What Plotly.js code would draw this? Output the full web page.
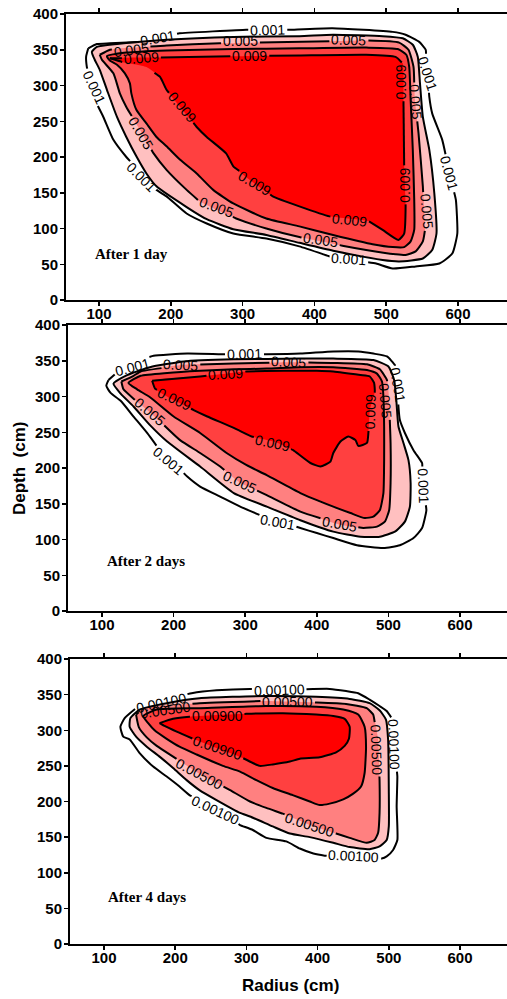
<!DOCTYPE html>
<html>
<head>
<meta charset="utf-8">
<script src="https://cdn.plot.ly/plotly-3.0.1.min.js"></script>
<style>html,body{margin:0;padding:0;background:#fff;}#chart{width:507px;height:999px;}</style>
</head>
<body>
<div id="chart"></div>
<script>
// ---------- contour lines: [radius (cm), depth (cm)] ----------
// After 1 day
const day1_c001 = [[85,352],[97,358],[115,359],[157,361],[212,373],[305,378],[365,378],[425,380],[509,375],[527,371],[546,361],[555,350],[560,284],[564,261],[578,224],[597,140],[599,93],[592,65],[574,51],[541,47],[509,44],[486,51],[421,61],[379,75],[333,86],[287,93],[250,107],[222,121],[194,145],[180,154],[138,200],[120,224],[106,256],[92,284],[83,326],[82,340]];
const day1_c003 = [[90,347],[97,354],[125,358],[194,364],[287,368],[379,369],[426,371],[495,369],[523,366],[537,357],[544,340],[547,303],[551,256],[560,210],[567,149],[570,93],[564,70],[551,58],[518,54],[495,56],[426,69],[379,80],[333,91],[287,99],[250,113],[222,130],[180,159],[166,177],[152,201],[138,228],[125,256],[111,294],[101,322],[94,336]];
const day1_c005 = [[101,343],[115,350],[148,353],[194,356],[268,359],[324,360],[421,362],[472,363],[518,360],[531,350],[538,326],[540,280],[545,233],[551,159],[554,98],[551,82],[541,68],[527,63],[513,64],[472,70],[439,76],[379,88],[333,100],[291,114],[240,138],[222,154],[194,182],[176,205],[157,238],[138,270],[129,289],[120,317],[104,336]];
const day1_c007 = [[111,341],[138,346],[194,349],[287,351],[379,352],[472,353],[516,351],[528,343],[532,326],[534,280],[537,210],[539,140],[539,98],[534,82],[525,74],[509,74],[481,78],[426,91],[379,103],[333,114],[287,135],[259,154],[236,177],[213,196],[194,215],[180,228],[166,247],[152,266],[145,289],[143,303],[136,317],[125,329],[115,335]];
const day1_c009 = [[115,338],[185,339],[287,341],[379,342],[472,343],[513,340],[523,331],[524,280],[525,187],[527,131],[525,93],[517,84],[495,98],[476,110],[421,117],[379,131],[342,145],[287,187],[277,205],[250,228],[236,242],[194,294],[185,312],[166,326],[132,333]];

// After 2 days
const day2_c001 = [[109,323],[106,315],[112,305],[126,294],[144,272],[163,249],[177,230],[219,188],[237,174],[265,160],[293,146],[321,134],[377,116],[400,109],[423,102],[456,92],[493,88],[516,92],[535,102],[547,116],[553,141],[549,179],[547,207],[535,225],[523,249],[516,267],[514,286],[512,328],[509,344],[498,356],[479,360],[458,363],[423,363],[377,360],[330,359],[270,359],[219,360],[172,357],[144,349],[119,332]];
const day2_c003 = [[116,318],[135,330],[167,341],[214,349],[284,352],[377,353],[423,353],[479,351],[500,342],[508,323],[511,295],[514,258],[521,235],[528,211],[531,179],[530,146],[523,125],[509,111],[488,104],[461,104],[423,111],[377,127],[330,146],[284,165],[237,202],[191,237],[167,260],[144,286],[126,304]];
const day2_c005 = [[127,321],[144,329],[154,335],[210,344],[284,346],[361,348],[423,347],[470,345],[488,338],[498,323],[501,295],[503,235],[503,179],[501,141],[495,125],[484,118],[465,116],[431,121],[377,139],[330,162],[292,180],[265,202],[237,221],[209,239],[167,278],[144,297],[130,310]];
const day2_c007 = [[137,319],[154,329],[191,333],[237,336],[284,338],[330,339],[377,341],[423,341],[470,337],[484,332],[491,321],[493,300],[494,258],[494,211],[493,165],[488,141],[479,132],[467,130],[447,137],[423,146],[377,165],[330,190],[302,204],[274,221],[237,249],[200,272],[167,299],[149,310]];
const day2_c009 = [[170,322],[237,328],[302,335],[354,336],[400,336],[423,335],[461,330],[474,328],[480,319],[481,307],[474,281],[472,249],[470,235],[458,231],[454,239],[444,244],[433,237],[423,221],[419,209],[405,202],[391,207],[367,225],[340,237],[309,244],[284,256],[247,272],[228,281],[200,295],[174,311]];

// After 4 days
const day4_c001 = [[145,331],[129,317],[123,305],[127,291],[136,287],[150,268],[169,249],[188,235],[206,221],[220,209],[255,191],[291,167],[309,160],[328,149],[356,144],[375,134],[394,127],[410,124],[450,120],[490,120],[497,123],[506,132],[512,146],[511,193],[512,235],[508,280],[504,317],[497,327],[487,334],[473,343],[457,352],[440,355],[417,358],[347,357],[305,358],[258,356],[223,352],[183,343]];
const day4_c003 = [[137,317],[150,329],[188,338],[234,345],[328,348],[398,347],[445,344],[473,338],[487,328],[496,315],[499,287],[500,216],[500,165],[497,146],[487,137],[473,133],[445,136],[422,142],[389,150],[361,155],[337,165],[305,179],[291,184],[258,202],[234,216],[216,230],[197,247],[178,263],[160,277],[145,291],[136,305]];
const day4_c005 = [[145,322],[155,331],[234,338],[323,341],[398,339],[440,337],[469,331],[478,322],[485,287],[487,230],[487,184],[485,156],[480,146],[469,142],[445,149],[426,155],[389,167],[351,183],[328,191],[305,200],[277,216],[234,239],[197,263],[174,278],[160,290],[149,304]];
const day4_c007 = [[155,320],[174,329],[234,331],[328,334],[398,333],[436,329],[457,322],[466,305],[468,277],[466,240],[461,221],[450,211],[436,203],[417,197],[403,195],[389,200],[365,209],[337,219],[314,230],[291,242],[267,250],[230,266],[206,277],[188,288],[171,300],[162,310]];
const day4_c009 = [[178,310],[197,316],[220,319],[300,323],[351,324],[398,322],[422,320],[438,316],[445,305],[444,288],[438,278],[426,269],[403,262],[375,260],[361,256],[337,252],[319,250],[309,254],[295,261],[258,275],[225,288],[202,298],[185,306]];

// ---------- contour labels: text, radius, depth ----------
const day1_lab_text = ['0.001','0.001','0.001','0.001','0.001','0.001','0.001','0.005','0.005','0.005','0.005','0.005','0.005','0.005','0.005','0.009','0.009','0.009','0.009','0.009','0.009','0.009'];
const day1_lab_x    = [182,335,557,587,448,159,93, 145,297,448,541,556,409,263,158, 159,310,520,526,216,316,449];
const day1_lab_y    = [367,378,317,177,57,172,298, 349,362.5,363,277,124,84,130,233, 338,341,305,161,270,163,112];
const day1_lab_ang  = [-10,-2,72,75,4,45,65, -8,0,2,85,85,8,20,60, -4,0,-90,-90,50,30,6];

const day2_lab_text = ['0.001','0.001','0.001','0.001','0.001','0.001','0.005','0.005','0.005','0.005','0.005','0.005','0.009','0.009','0.009','0.009'];
const day2_lab_x    = [143,299,513,549,345,193, 210,361,496,431,292,167, 273,474,338,201];
const day2_lab_y    = [341,359,316,175,124,210, 344,348,294,121,180,278, 332,279,235,297];
const day2_lab_ang  = [-15,-2,80,88,10,40, 3,3,85,10,25,40, -3,-88,12,25];

const day4_lab_text = ['0.00100','0.00100','0.00100','0.00100','0.00100','0.00500','0.00500','0.00500','0.00500','0.00500','0.00900','0.00900'];
const day4_lab_x    = [181,346,508,451,256, 187,358,482,389,234, 259,260];
const day4_lab_y    = [338,357,280,123,188, 328,340,273,167,239, 320,275];
const day4_lab_ang  = [-12,-2,88,3,25, -8,0,88,18,28, 0,18];

const panel_titles = ['After 1 day','After 2 days','After 4 days'];
const xtick_vals = [100,200,300,400,500,600];
const ytick_vals = [0,50,100,150,200,250,300,350,400];

// ---------- geometry of the three panels (pixels of the 507x999 page) ----------
const W = 507, H = 999;
const geo = [
  {xl: 66, xr: 507, yt: 14,  yb: 300, xr0: 54,   xr1: 668.2},
  {xl: 68, xr: 507, yt: 325, yb: 611, xr0: 52.5, xr1: 665.6},
  {xl: 70, xr: 507, yt: 659, yb: 944, xr0: 52.2, xr1: 666}
];
const LABEL_FONT = 14;

// remove the stretch of a contour line that lies under its own labels (line gap like the original)
function gapLine(pts, circles, sx, sy) {
  const xs = [], ys = [];
  let open = false;
  for (let i = 0; i < pts.length - 1; i++) {
    const A = pts[i], B = pts[i + 1];
    const dx = (B[0] - A[0]) * sx, dy = (B[1] - A[1]) * sy;
    const cuts = [];
    circles.forEach(c => {
      const fx = (A[0] - c[0]) * sx, fy = (A[1] - c[1]) * sy;
      const a = dx * dx + dy * dy, b = 2 * (fx * dx + fy * dy), cc = fx * fx + fy * fy - c[2] * c[2];
      const disc = b * b - 4 * a * cc;
      if (a === 0 || disc <= 0) return;
      const s = Math.sqrt(disc);
      const t1 = Math.max(0, (-b - s) / (2 * a)), t2 = Math.min(1, (-b + s) / (2 * a));
      if (t2 > t1) cuts.push([t1, t2]);
    });
    cuts.sort((p, q) => p[0] - q[0]);
    const keep = [];
    let cur = 0;
    cuts.forEach(([u, v]) => { if (u > cur) keep.push([cur, u]); cur = Math.max(cur, v); });
    if (cur < 1) keep.push([cur, 1]);
    const P = t => [A[0] + (B[0] - A[0]) * t, A[1] + (B[1] - A[1]) * t];
    if (!keep.length) { open = false; continue; }
    keep.forEach(([u, v]) => {
      if (!(open && u === 0)) {
        if (xs.length) { xs.push(null); ys.push(null); }
        const p = P(u); xs.push(p[0]); ys.push(p[1]);
      }
      const q = P(v); xs.push(q[0]); ys.push(q[1]);
      open = (v === 1);
    });
  }
  return {xs, ys};
}

// ---------- build ----------
const fills = ['rgba(0,0,0,0)','#FFC0C0','#FF8080','#FF4040','#FF0000'];
const levelOfLabel = {'0.001': 0, '0.005': 2, '0.009': 4};
const panels = [
  {levels:[day1_c001,day1_c003,day1_c005,day1_c007,day1_c009], lt:day1_lab_text, lx:day1_lab_x, ly:day1_lab_y, la:day1_lab_ang},
  {levels:[day2_c001,day2_c003,day2_c005,day2_c007,day2_c009], lt:day2_lab_text, lx:day2_lab_x, ly:day2_lab_y, la:day2_lab_ang},
  {levels:[day4_c001,day4_c003,day4_c005,day4_c007,day4_c009], lt:day4_lab_text, lx:day4_lab_x, ly:day4_lab_y, la:day4_lab_ang}
];
const traces = [];
const annotations = [];
panels.forEach((p, i) => {
  const g = geo[i];
  const sx = (g.xr - g.xl) / (g.xr1 - g.xr0), sy = (g.yb - g.yt) / 400;
  const xa = i === 0 ? 'x' : 'x' + (i + 1);
  const ya = i === 0 ? 'y' : 'y' + (i + 1);
  const circ = [[], [], [], [], []];
  p.lt.forEach((t, j) => {
    const lvl = levelOfLabel[parseFloat(t).toFixed(3)];
    const nd = t.replace('.', '').length;
    const halfW = LABEL_FONT * (0.556 * nd + 0.278) / 2 + 2;
    circ[lvl].push([p.lx[j], p.ly[j], halfW]);
  });
  p.levels.forEach((poly, k) => {
    if (k === 0) return;
    const pts = poly.concat([poly[0]]);
    traces.push({
      type: 'scatter', mode: 'lines', xaxis: xa, yaxis: ya,
      x: pts.map(d => d[0]), y: pts.map(d => d[1]),
      fill: 'toself', fillcolor: fills[k],
      line: {color: 'rgba(0,0,0,0)', width: 0, shape: 'spline', smoothing: 0.5},
      hoverinfo: 'skip', showlegend: false
    });
  });
  p.levels.forEach((poly, k) => {
    const pts = poly.concat([poly[0]]);
    const gl = gapLine(pts, circ[k], sx, sy);
    traces.push({
      type: 'scatter', mode: 'lines', xaxis: xa, yaxis: ya,
      x: gl.xs, y: gl.ys, connectgaps: false,
      line: {color: '#000', width: 2, shape: 'spline', smoothing: 0.5},
      hoverinfo: 'skip', showlegend: false
    });
  });
  p.lt.forEach((t, j) => {
    annotations.push({
      xref: xa, yref: ya, x: p.lx[j], y: p.ly[j], text: t, showarrow: false,
      xanchor: 'center', yanchor: 'middle', textangle: p.la[j],
      font: {family: 'Liberation Sans, Arial, sans-serif', size: LABEL_FONT, color: '#000'}
    });
  });
});
const titleX = [91, 104, 103];
const titleY = [64, 70, 66];
panel_titles.forEach((t, i) => {
  annotations.push({
    xref: i === 0 ? 'x' : 'x' + (i + 1), yref: i === 0 ? 'y' : 'y' + (i + 1),
    x: titleX[i], y: titleY[i], xanchor: 'left', yanchor: 'middle', text: '<b>' + t + '</b>', showarrow: false,
    font: {family: 'Liberation Serif, Times New Roman, serif', size: 15, color: '#000'}
  });
});
annotations.push({xref:'paper', yref:'paper', x: 19/W, y: 1 - 468/H, xanchor: 'center', yanchor: 'middle',
  text: '<b>Depth\u00a0\u00a0(cm)</b>', textangle: -90, showarrow: false,
  font: {family: 'Liberation Sans, Arial, sans-serif', size: 17, color: '#000'}});
annotations.push({xref:'paper', yref:'paper', x: 290/W, y: 1 - 985/H, xanchor: 'center', yanchor: 'middle',
  text: '<b>Radius (cm)</b>', showarrow: false,
  font: {family: 'Liberation Sans, Arial, sans-serif', size: 17, color: '#000'}});

const tickFont = {family: 'Liberation Sans, Arial, sans-serif', size: 15, color: '#000'};
function xAxis(g, anchor) {
  return {domain: [g.xl / W, g.xr / W], range: [g.xr0, g.xr1], anchor: anchor, tickmode: 'array', tickvals: xtick_vals,
    ticktext: xtick_vals.map(v => '<b>' + v + '</b>'), ticks: 'outside', ticklen: 4, tickwidth: 1.5, ticklabelstandoff: -5,
    tickcolor: '#000', showline: true, linewidth: 2, linecolor: '#000', mirror: 'ticks', showgrid: false, zeroline: false,
    tickfont: tickFont, fixedrange: true};
}
function yAxis(g, anchor) {
  return {domain: [1 - g.yb / H, 1 - g.yt / H], range: [0, 400], anchor: anchor, tickmode: 'array', tickvals: ytick_vals,
    ticktext: ytick_vals.map(v => '<b>' + v + '</b>'), ticks: 'outside', ticklen: 4, tickwidth: 1.5, ticklabelstandoff: -1,
    tickcolor: '#000', showline: true, linewidth: 2, linecolor: '#000', mirror: false, showgrid: false, zeroline: false,
    tickfont: tickFont, fixedrange: true};
}
const layout = {
  width: W, height: H, margin: {l: 0, r: 0, t: 0, b: 0},
  paper_bgcolor: '#fff', plot_bgcolor: '#fff', showlegend: false,
  xaxis:  xAxis(geo[0], 'y'),  yaxis:  yAxis(geo[0], 'x'),
  xaxis2: xAxis(geo[1], 'y2'), yaxis2: yAxis(geo[1], 'x2'),
  xaxis3: xAxis(geo[2], 'y3'), yaxis3: yAxis(geo[2], 'x3'),
  annotations: annotations
};
Plotly.newPlot('chart', traces, layout, {displayModeBar: false, staticPlot: true});
</script>
</body>
</html>
